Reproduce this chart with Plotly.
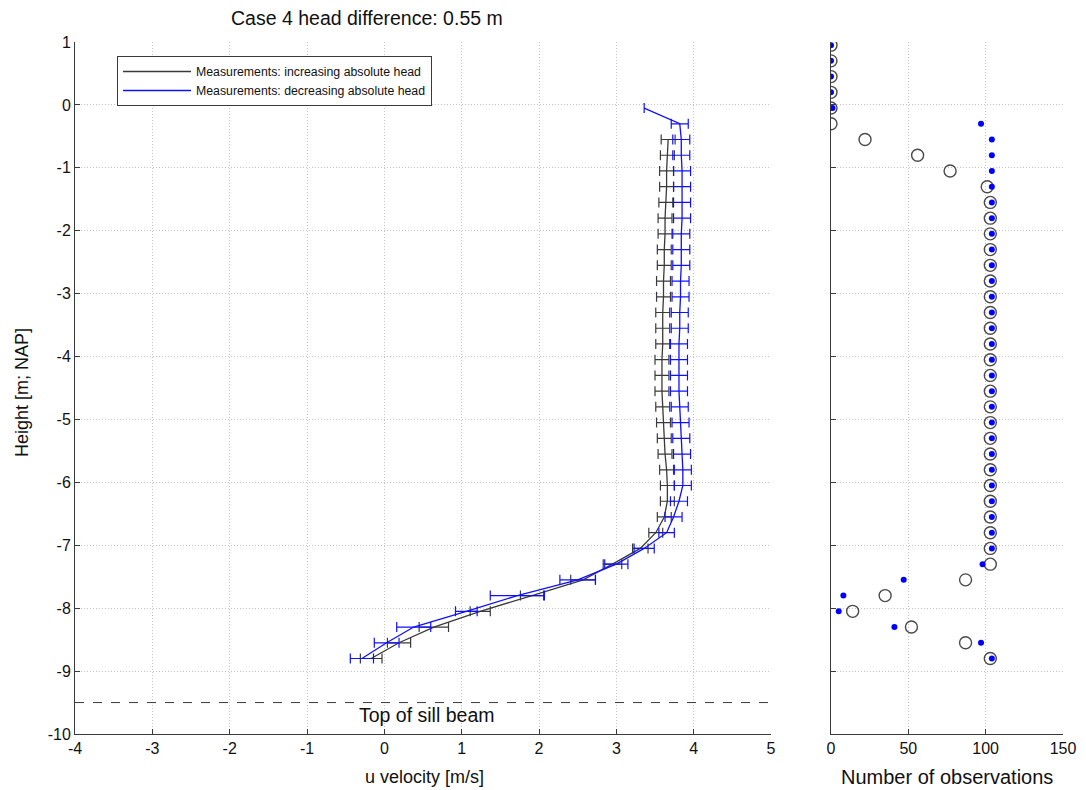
import plotly.graph_objects as go

# ---------------- data ----------------
levels = [0.95, 0.7, 0.45, 0.2, -0.05, -0.3, -0.55, -0.8, -1.05, -1.3,
          -1.55, -1.8, -2.05, -2.3, -2.55, -2.8, -3.05, -3.3, -3.55, -3.8,
          -4.05, -4.3, -4.55, -4.8, -5.05, -5.3, -5.55, -5.8, -6.05, -6.3,
          -6.55, -6.8, -7.05, -7.3, -7.55, -7.8, -8.05, -8.3, -8.55, -8.8]

# observation counts per level
n_increasing = [0, 0, 0, 0, 0, 0, 22, 56, 77, 101,
                103, 103, 103, 103, 103, 103, 103, 103, 103, 103,
                103, 103, 103, 103, 103, 103, 103, 103, 103, 103,
                103, 103, 103, 103, 87, 35, 14, 52, 87, 103]
n_decreasing = [0, 0, 0, 0, 1, 97, 104, 104, 104, 104,
                104, 104, 104, 104, 104, 104, 104, 104, 104, 104,
                104, 104, 104, 104, 104, 104, 104, 104, 104, 104,
                104, 104, 104, 98, 47, 8, 5, 41, 97, 104]

# increasing absolute head: levels -0.55 ... -8.8
h_inc = [-0.55, -0.8, -1.05, -1.3, -1.55, -1.8, -2.05, -2.3, -2.55, -2.8,
         -3.05, -3.3, -3.55, -3.8, -4.05, -4.3, -4.55, -4.8, -5.05, -5.3,
         -5.55, -5.8, -6.05, -6.3, -6.55, -6.8, -7.05, -7.3, -7.55, -7.8,
         -8.05, -8.3, -8.55, -8.8]
u_inc = [3.67, 3.66, 3.65, 3.65, 3.64, 3.63, 3.63, 3.62, 3.62, 3.61,
         3.61, 3.60, 3.60, 3.60, 3.59, 3.59, 3.59, 3.60, 3.61, 3.62,
         3.63, 3.65, 3.66, 3.66, 3.62, 3.51, 3.31, 2.95, 2.57, 1.91,
         1.24, 0.64, 0.19, -0.17]
e_inc = [0.09, 0.09, 0.09, 0.09, 0.09, 0.09, 0.09, 0.09, 0.09, 0.09,
         0.09, 0.09, 0.09, 0.09, 0.09, 0.09, 0.09, 0.09, 0.09, 0.09,
         0.09, 0.09, 0.09, 0.09, 0.09, 0.09, 0.10, 0.12, 0.16, 0.15,
         0.13, 0.19, 0.15, 0.14]

# decreasing absolute head: levels -0.05 ... -8.8
h_dec = [-0.05, -0.3, -0.55, -0.8, -1.05, -1.3, -1.55, -1.8, -2.05, -2.3,
         -2.55, -2.8, -3.05, -3.3, -3.55, -3.8, -4.05, -4.3, -4.55, -4.8,
         -5.05, -5.3, -5.55, -5.8, -6.05, -6.3, -6.55, -6.8, -7.05, -7.3,
         -7.55, -7.8, -8.05, -8.3, -8.55, -8.8]
u_dec = [3.36, 3.82, 3.84, 3.84, 3.85, 3.85, 3.85, 3.85, 3.84, 3.84,
         3.84, 3.83, 3.83, 3.82, 3.82, 3.81, 3.81, 3.81, 3.81, 3.82,
         3.83, 3.84, 3.85, 3.86, 3.86, 3.81, 3.74, 3.65, 3.36, 3.00,
         2.50, 1.72, 1.06, 0.38, 0.03, -0.29]
e_dec = [0.0, 0.11, 0.11, 0.11, 0.11, 0.11, 0.11, 0.11, 0.11, 0.11,
         0.11, 0.11, 0.11, 0.11, 0.11, 0.11, 0.11, 0.11, 0.11, 0.11,
         0.11, 0.11, 0.11, 0.11, 0.11, 0.11, 0.11, 0.10, 0.13, 0.15,
         0.23, 0.35, 0.14, 0.22, 0.16, 0.15]

sill_level = -9.5
x_ticks_u = [-4, -3, -2, -1, 0, 1, 2, 3, 4, 5]
x_labels_u = ["-4", "-3", "-2", "-1", "0", "1", "2", "3", "4", "5"]
x_ticks_n = [0, 50, 100, 150]
x_labels_n = ["0", "50", "100", "150"]
y_ticks = [1, 0, -1, -2, -3, -4, -5, -6, -7, -8, -9, -10]
y_labels = ["1", "0", "-1", "-2", "-3", "-4", "-5", "-6", "-7", "-8", "-9", "-10"]

title_text = "Case 4 head difference: 0.55 m"

# ---------------- figure ----------------
W, H = 1086, 790
FONT = "Liberation Sans, Arial, sans-serif"
DARK = "#3a3a3a"
BLUE = "#1010ff"
TXT = "#111111"

fig = go.Figure()

fig.add_trace(go.Scatter(
    x=u_inc, y=h_inc, mode="lines", name="Measurements: increasing absolute head",
    line=dict(color=DARK, width=1.3),
    error_x=dict(type="data", array=e_inc, symmetric=True, color=DARK, thickness=1.2, width=5),
    xaxis="x", yaxis="y"))
fig.add_trace(go.Scatter(
    x=u_dec, y=h_dec, mode="lines", name="Measurements: decreasing absolute head",
    line=dict(color=BLUE, width=1.3),
    error_x=dict(type="data", array=e_dec, symmetric=True, color=BLUE, thickness=1.2, width=5),
    xaxis="x", yaxis="y"))

fig.add_trace(go.Scatter(
    x=n_increasing, y=levels, mode="markers", showlegend=False,
    marker=dict(symbol="circle-open", size=12, color="#4a4a4a", line=dict(width=1.4)),
    xaxis="x2", yaxis="y2"))
fig.add_trace(go.Scatter(
    x=n_decreasing, y=levels, mode="markers", showlegend=False,
    marker=dict(symbol="circle", size=6, color="#0000ff"),
    xaxis="x2", yaxis="y2"))

# sill beam line
fig.add_trace(go.Scatter(
    x=[x_ticks_u[0], x_ticks_u[-1]], y=[sill_level, sill_level], mode="lines",
    showlegend=False, line=dict(color=DARK, width=1, dash="dash"),
    xaxis="x", yaxis="y", hoverinfo="skip"))

x1d = [75 / W, 771 / W]
x2d = [831 / W, 1063 / W]
yd = [(H - 734) / H, (H - 42) / H]

axis_common = dict(
    showline=True, linecolor=DARK, linewidth=1,
    ticks="inside", ticklen=5, tickcolor=DARK,
    showgrid=True, gridcolor="#c4c4c4", griddash="1px,2px", gridwidth=1,
    zeroline=False, automargin=False,
    tickfont=dict(family=FONT, size=16, color=TXT),
)

fig.update_layout(
    width=W, height=H,
    margin=dict(l=0, r=0, t=0, b=0),
    paper_bgcolor="white", plot_bgcolor="white",
    font=dict(family=FONT, color=TXT),
    xaxis=dict(domain=x1d, range=[-4, 5], tickvals=x_ticks_u, ticktext=x_labels_u,
               anchor="y", **axis_common),
    yaxis=dict(domain=yd, range=[-10, 1], tickvals=y_ticks, ticktext=y_labels,
               anchor="x", **axis_common),
    xaxis2=dict(domain=x2d, range=[0, 150], tickvals=x_ticks_n, ticktext=x_labels_n,
                anchor="y2", **axis_common),
    yaxis2=dict(domain=yd, range=[-10, 1], tickvals=y_ticks, anchor="x2",
                showticklabels=False, **axis_common),
    showlegend=True,
    legend=dict(x=117 / W, y=1 - 56 / H, xanchor="left", yanchor="top",
                bgcolor="white", bordercolor=DARK, borderwidth=1,
                font=dict(family=FONT, size=12.3, color=TXT),
                itemwidth=68, tracegroupgap=0),
)

annotations = [
    dict(text=title_text, x=367 / W, y=1 - 18 / H, xref="paper", yref="paper",
         showarrow=False, font=dict(family=FONT, size=19.5, color=TXT),
         xanchor="center", yanchor="middle"),
    dict(text="Height [m; NAP]", x=22 / W, y=1 - 393 / H, xref="paper", yref="paper",
         showarrow=False, textangle=-90, font=dict(family=FONT, size=18, color=TXT),
         xanchor="center", yanchor="middle"),
    dict(text="u velocity [m/s]", x=424 / W, y=1 - 777 / H, xref="paper", yref="paper",
         showarrow=False, font=dict(family=FONT, size=18, color=TXT),
         xanchor="center", yanchor="middle"),
    dict(text="Number of observations", x=947 / W, y=1 - 777 / H, xref="paper", yref="paper",
         showarrow=False, font=dict(family=FONT, size=20, color=TXT),
         xanchor="center", yanchor="middle"),
    dict(text="Top of sill beam", x=0.55, y=-9.7, xref="x", yref="y",
         showarrow=False, font=dict(family=FONT, size=19.5, color=TXT),
         xanchor="center", yanchor="middle"),
]
fig.update_layout(annotations=annotations)

fig.write_html("out.html")
